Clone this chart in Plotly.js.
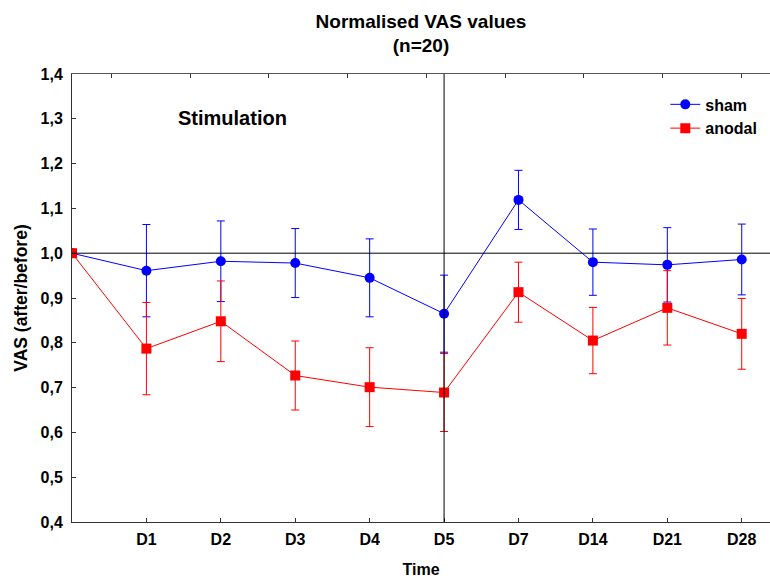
<!DOCTYPE html>
<html>
<head>
<meta charset="utf-8">
<script src="https://cdn.plot.ly/plotly-3.0.1.min.js"></script>
<style>html,body{margin:0;padding:0;background:#fff;}#chart{width:770px;height:578px;}</style>
</head>
<body>
<div id="chart"></div>
<script>
// ---- data ----
const categories = ['', 'D1', 'D2', 'D3', 'D4', 'D5', 'D7', 'D14', 'D21', 'D28'];
const shamValues   = [1.000, 0.961, 0.982, 0.978, 0.945, 0.865, 1.119, 0.980, 0.974, 0.986];
const shamErrors   = [0.000, 0.103, 0.090, 0.077, 0.087, 0.086, 0.066, 0.074, 0.083, 0.079];
const anodalValues = [1.000, 0.787, 0.848, 0.727, 0.701, 0.689, 0.913, 0.805, 0.878, 0.820];
const anodalErrors = [0.000, 0.103, 0.090, 0.077, 0.088, 0.087, 0.067, 0.074, 0.083, 0.079];
const yTickValues  = [0.4, 0.5, 0.6, 0.7, 0.8, 0.9, 1.0, 1.1, 1.2, 1.3, 1.4];

const xIdx = categories.map((_, i) => i);
const stimEnd = categories.indexOf('D5');
const FONT = 'Liberation Sans, Arial, sans-serif';

const traces = [
  {
    x: xIdx, y: shamValues, name: 'sham', type: 'scatter', mode: 'lines+markers',
    line: {color: '#0000ff', width: 1},
    marker: {color: '#0000ff', symbol: 'circle', size: 10},
    error_y: {type: 'data', array: shamErrors, visible: true, color: '#0000ff', thickness: 1, width: 4}
  },
  {
    x: xIdx, y: anodalValues, name: 'anodal', type: 'scatter', mode: 'lines+markers',
    line: {color: '#ff0000', width: 1},
    marker: {color: '#ff0000', symbol: 'square', size: 10},
    error_y: {type: 'data', array: anodalErrors, visible: true, color: '#ff0000', thickness: 1, width: 4}
  }
];

const layout = {
  width: 770, height: 578,
  margin: {l: 71.5, r: 0, t: 74, b: 56},
  paper_bgcolor: '#ffffff', plot_bgcolor: '#ffffff',
  separators: ',.',
  font: {family: FONT, color: '#000', size: 16},
  title: {
    text: 'Normalised VAS values<br>(n=20)',
    font: {family: FONT, size: 19, weight: 'bold', color: '#000'},
    x: 0.5, xanchor: 'center', xref: 'paper',
    y: 0.952, yanchor: 'top', yref: 'container'
  },
  xaxis: {
    range: [0, 9.38],
    tickvals: xIdx, ticktext: categories,
    ticks: 'inside', ticklen: 4, tickcolor: '#333',
    showline: true, linecolor: '#333', linewidth: 1,
    showgrid: false, zeroline: false,
    ticklabelstandoff: 3,
    tickfont: {family: FONT, size: 16, weight: 'bold'},
    title: {text: 'Time', font: {family: FONT, size: 16, weight: 'bold'}, standoff: 16}
  },
  xaxis2: {
    overlaying: 'x', side: 'top', anchor: 'y',
    range: [0, 9.38],
    tick0: 0.53, dtick: 1.058, tickmode: 'linear',
    ticks: 'inside', ticklen: 4, tickcolor: '#333',
    showticklabels: false,
    showline: true, linecolor: '#555', linewidth: 1,
    showgrid: false, zeroline: false
  },
  yaxis: {
    range: [0.4, 1.4],
    tickvals: yTickValues, tickformat: '.1f',
    ticks: 'inside', ticklen: 4, tickcolor: '#333',
    showline: true, linecolor: '#333', linewidth: 1,
    showgrid: false, zeroline: false,
    ticklabelstandoff: 5,
    tickfont: {family: FONT, size: 16, weight: 'bold'},
    title: {text: 'VAS (after/before)', font: {family: FONT, size: 17.5, weight: 'bold'}, standoff: 8}
  },
  showlegend: true,
  legend: {
    x: 0.85, y: 0.97, xanchor: 'left', yanchor: 'top',
    bgcolor: 'rgba(0,0,0,0)', borderwidth: 0,
    font: {family: FONT, size: 16, weight: 'bold'},
    tracegroupgap: 0, itemwidth: 30
  },
  shapes: [
    {type: 'line', xref: 'paper', x0: 0, x1: 1, yref: 'y', y0: 1.0, y1: 1.0,
     line: {color: '#000', width: 1}},
    {type: 'line', xref: 'x', x0: stimEnd, x1: stimEnd, yref: 'paper', y0: 0, y1: 1,
     line: {color: '#000', width: 1}}
  ],
  annotations: [
    {text: 'Stimulation', xref: 'x', yref: 'y', x: 2.16, y: 1.302,
     showarrow: false, font: {family: FONT, size: 20, weight: 'bold', color: '#000'}}
  ]
};

// invisible helper trace so the top mirror axis is drawn
traces.push({x: [0], y: [1], xaxis: 'x2', yaxis: 'y', mode: 'markers', marker: {opacity: 0}, showlegend: false, hoverinfo: 'skip'});

Plotly.newPlot('chart', traces, layout, {displayModeBar: false, staticPlot: true});
</script>
</body>
</html>
